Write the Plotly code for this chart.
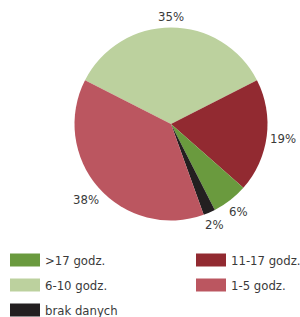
import math
import plotly.graph_objects as go

# Data
categories = ["6-10 godz.", "11-17 godz.", ">17 godz.", "brak danych", "1-5 godz."]
values = [35, 19, 6, 2, 38]
colors = ["#bcd19e", "#922a31", "#6a9a3e", "#231f20", "#bb5660"]

legend_order = [">17 godz.", "11-17 godz.", "6-10 godz.", "1-5 godz.", "brak danych"]

FONT = "Liberation Sans Narrow, DejaVu Sans Condensed, Arial Narrow, sans-serif"
W, H = 300, 317
ROT = -63  # start angle of first slice, degrees clockwise from 12 o'clock

# pie geometry (pixels)
CX, CY, R = 171, 124, 96.5
dom_x = [(CX - R) / W, (CX + R) / W]
dom_y = [1 - (CY + R) / H, 1 - (CY - R) / H]

fig = go.Figure(go.Pie(
    labels=categories,
    values=values,
    marker=dict(colors=colors, line=dict(width=0)),
    sort=False,
    direction="clockwise",
    rotation=ROT,
    textinfo="none",
    textposition="none",
    showlegend=False,
    hoverinfo="label+percent",
    domain=dict(x=dom_x, y=dom_y),
))

shapes, annos = [], []

# percentage labels outside the slices, positioned from slice mid-angles
total = sum(values)
cum = 0
for v in values:
    mid = math.radians(ROT + (cum + v / 2) / total * 360)
    cum += v
    txt = f"{v}%"
    tw = 6.5 * len(txt) / 2 + 1
    th = 6
    s, c = math.sin(mid), math.cos(mid)
    rr = R + 5 + tw * abs(s) + th * abs(c)
    px = CX + rr * s
    py = CY - rr * c
    annos.append(dict(xref="paper", yref="paper", x=px / W, y=1 - py / H,
                      xanchor="center", yanchor="middle", showarrow=False,
                      text=txt, font=dict(family=FONT, size=13, color="#3a3a3a")))

# manual legend (2 columns, row-major)
col_x = [10, 196]
row_y = [260, 285, 310]
cmap = dict(zip(categories, colors))
for i, name in enumerate(legend_order):
    c = i % 2
    r = i // 2
    x0 = col_x[c]
    yc = row_y[r]
    shapes.append(dict(type="rect", xref="paper", yref="paper",
                       x0=x0 / W, x1=(x0 + 30) / W,
                       y0=1 - (yc + 6.5) / H, y1=1 - (yc - 6.5) / H,
                       fillcolor=cmap[name], line=dict(width=0)))
    annos.append(dict(xref="paper", yref="paper", x=(x0 + 33) / W, y=1 - yc / H,
                      xanchor="left", yanchor="middle", showarrow=False,
                      text=name, font=dict(family=FONT, size=13, color="#3a3a3a")))

fig.update_layout(
    width=W, height=H,
    margin=dict(l=0, r=0, t=0, b=0),
    paper_bgcolor="white", plot_bgcolor="white",
    shapes=shapes, annotations=annos,
)

fig.write_html("out.html", config={"displayModeBar": False},
               post_script="document.body.style.margin='0';")
